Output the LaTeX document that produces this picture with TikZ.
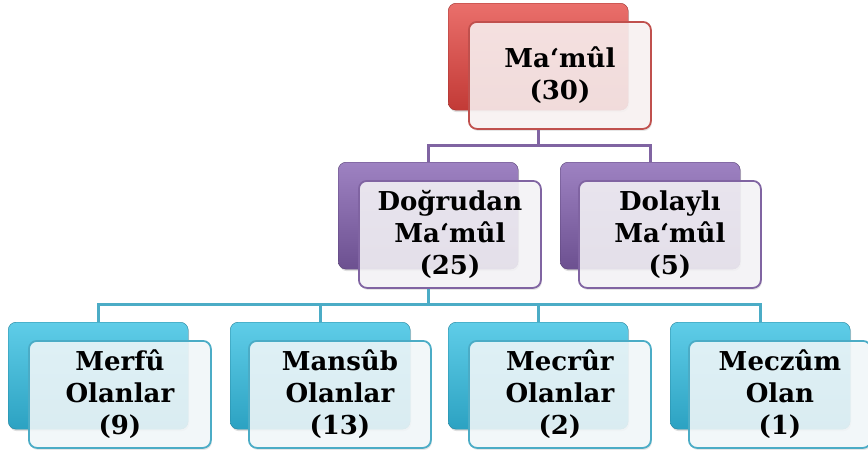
\documentclass[tikz,border=0pt]{standalone}
\usepackage{fontspec}
\setmainfont{DejaVu Serif}
\usetikzlibrary{shadows,calc}
\definecolor{redA}{HTML}{EA6F6B}\definecolor{redB}{HTML}{C23A36}\definecolor{redE}{HTML}{C0504D}
\definecolor{purA}{HTML}{9E82C2}\definecolor{purB}{HTML}{6C5090}\definecolor{purE}{HTML}{8064A2}
\definecolor{aquA}{HTML}{5FCDE8}\definecolor{aquB}{HTML}{2CA2C2}\definecolor{aquE}{HTML}{4BACC6}
\tikzset{
  backbox/.style={rounded corners=8pt, minimum width=180pt, minimum height=107pt, anchor=north west,
     draw=#1B!80!black, line width=0.4pt, top color=#1A, bottom color=#1B,
     drop shadow={opacity=0.25, shadow xshift=1pt, shadow yshift=-2pt}},
  frontbox/.style={rounded corners=8pt, minimum width=182pt, minimum height=107pt, anchor=north west,
     draw=#1E, line width=1.8pt, fill=#1E!6, fill opacity=0.86, text opacity=1, align=center,
     font=\fontsize{26}{32}\selectfont\bfseries,
     drop shadow={opacity=0.2, shadow xshift=1pt, shadow yshift=-2pt}},
  conn/.style={draw=#1E, line width=2.6pt}
}
\begin{document}
\begin{tikzpicture}[x=1pt,y=-1pt]
\useasboundingbox (0,0) rectangle (868,453);
% back boxes
\node[backbox=red] (r) at (448,3) {};
\node[backbox=pur] (p1) at (338,162) {};
\node[backbox=pur] (p2) at (560,162) {};
\node[backbox=aqu] (c1) at (8,322) {};
\node[backbox=aqu] (c2) at (230,322) {};
\node[backbox=aqu] (c3) at (448,322) {};
\node[backbox=aqu] (c4) at (670,322) {};
% front boxes
\node[frontbox=red] (rf) at (468,21) {Ma‘mûl\\(30)};
\node[frontbox=pur] (p1f) at (358,180) {Doğrudan\\Ma‘mûl\\(25)};
\node[frontbox=pur] (p2f) at (578,180) {Dolaylı\\Ma‘mûl\\(5)};
\node[frontbox=aqu] (c1f) at (28,340) {Merfû\\Olanlar\\(9)};
\node[frontbox=aqu] (c2f) at (248,340) {Mansûb\\Olanlar\\(13)};
\node[frontbox=aqu] (c3f) at (468,340) {Mecrûr\\Olanlar\\(2)};
\node[frontbox=aqu] (c4f) at (688,340) {Meczûm\\Olan\\(1)};
% connectors
\coordinate (j1) at ($(r.south)+(0,35)$);
\coordinate (j2) at ($(p1.south)+(0,35)$);
\draw[conn=pur] (r.south |- rf.south) -- (j1) -| (p1.north);
\draw[conn=pur] (j1) -| (p2.north);
\draw[conn=aqu] (p1.south |- p1f.south) -- (j2) -| (c1.north);
\draw[conn=aqu] (j2) -| (c2.north);
\draw[conn=aqu] (j2) -| (c3.north);
\draw[conn=aqu] (j2) -| (c4.north);
\end{tikzpicture}
\end{document}
